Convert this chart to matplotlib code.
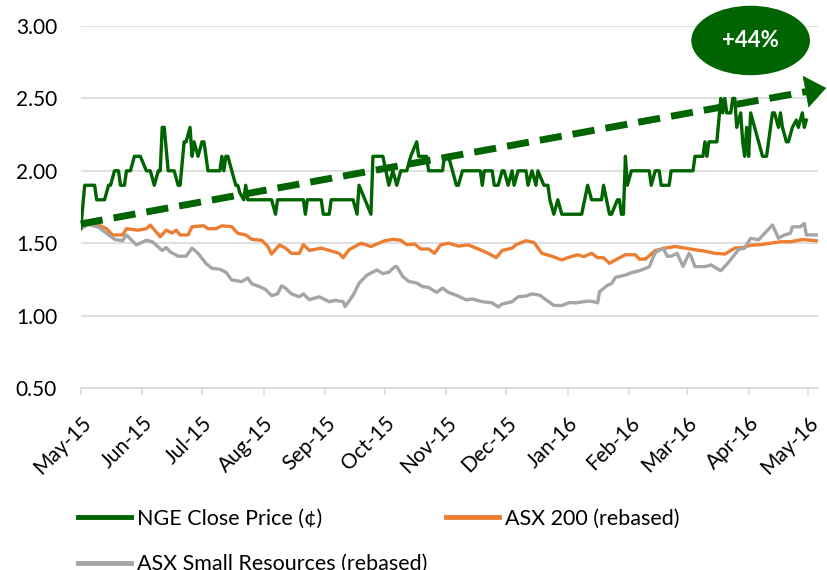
import matplotlib
matplotlib.use('Agg')
import matplotlib.pyplot as plt
import matplotlib.dates as mdates
from matplotlib.patches import Ellipse
import pandas as pd

plt.rcParams['font.family'] = ['Lato', 'DejaVu Sans']

# NGE close price (cents)
nge_dates = ['2015-05-01', '2015-05-03', '2015-05-08', '2015-05-09', '2015-05-13', '2015-05-15',
             '2015-05-16', '2015-05-18', '2015-05-20', '2015-05-21', '2015-05-23', '2015-05-24',
             '2015-05-26', '2015-05-28', '2015-05-31', '2015-06-03', '2015-06-05', '2015-06-07',
             '2015-06-09', '2015-06-10', '2015-06-11', '2015-06-12', '2015-06-14', '2015-06-17',
             '2015-06-19', '2015-06-20', '2015-06-22', '2015-06-23', '2015-06-25', '2015-06-26',
             '2015-06-27', '2015-06-29', '2015-07-01', '2015-07-02', '2015-07-04', '2015-07-10',
             '2015-07-11', '2015-07-12', '2015-07-13', '2015-07-14', '2015-07-16', '2015-07-18',
             '2015-07-19', '2015-07-20', '2015-07-22', '2015-07-23', '2015-07-24', '2015-08-05',
             '2015-08-07', '2015-08-08', '2015-08-19', '2015-08-21', '2015-08-22', '2015-08-23',
             '2015-08-30', '2015-08-31', '2015-09-03', '2015-09-04', '2015-09-15', '2015-09-17',
             '2015-09-18', '2015-09-21', '2015-09-24', '2015-09-25', '2015-09-30', '2015-10-03',
             '2015-10-05', '2015-10-07', '2015-10-09', '2015-10-12', '2015-10-14', '2015-10-17',
             '2015-10-18', '2015-10-22', '2015-10-23', '2015-10-30', '2015-10-31', '2015-11-02',
             '2015-11-04', '2015-11-06', '2015-11-07', '2015-11-09', '2015-11-18', '2015-11-19',
             '2015-11-20', '2015-11-24', '2015-11-25', '2015-11-27', '2015-11-29', '2015-11-30',
             '2015-12-02', '2015-12-04', '2015-12-05', '2015-12-07', '2015-12-11', '2015-12-12',
             '2015-12-14', '2015-12-16', '2015-12-17', '2015-12-20', '2015-12-22', '2015-12-23',
             '2015-12-25', '2015-12-27', '2015-12-29', '2016-01-08', '2016-01-11', '2016-01-13',
             '2016-01-18', '2016-01-19', '2016-01-22', '2016-01-23', '2016-01-26', '2016-01-27',
             '2016-01-28', '2016-01-29', '2016-01-30', '2016-01-31', '2016-02-02', '2016-02-11',
             '2016-02-12', '2016-02-14', '2016-02-16', '2016-02-17', '2016-02-21', '2016-02-22',
             '2016-03-04', '2016-03-05', '2016-03-09', '2016-03-10', '2016-03-11', '2016-03-12',
             '2016-03-16', '2016-03-18', '2016-03-19', '2016-03-20', '2016-03-21', '2016-03-23',
             '2016-03-24', '2016-03-25', '2016-03-26', '2016-03-28', '2016-03-29', '2016-03-30',
             '2016-03-31', '2016-04-01', '2016-04-02', '2016-04-04', '2016-04-06', '2016-04-08',
             '2016-04-10', '2016-04-12', '2016-04-13', '2016-04-14', '2016-04-16', '2016-04-17',
             '2016-04-18', '2016-04-20', '2016-04-21', '2016-04-23', '2016-04-25', '2016-04-26',
             '2016-04-28', '2016-04-29', '2016-04-30']
nge_vals = [1.6, 1.9, 1.9, 1.8, 1.8, 1.9,
            1.9, 2.0, 2.0, 1.9, 1.9, 2.0,
            2.0, 2.1, 2.1, 2.0, 2.0, 1.9,
            2.0, 2.0, 2.3, 2.3, 2.0, 2.0,
            1.9, 1.9, 2.2, 2.2, 2.3, 2.1,
            2.2, 2.1, 2.2, 2.2, 2.0, 2.0,
            2.1, 2.0, 2.1, 2.1, 2.0, 1.9,
            1.9, 1.85, 1.8, 1.9, 1.8, 1.8,
            1.7, 1.8, 1.8, 1.8, 1.7, 1.8,
            1.8, 1.7, 1.7, 1.8, 1.8, 1.7,
            1.9, 1.8, 1.7, 2.1, 2.1, 1.9,
            2.0, 1.9, 2.0, 2.0, 2.1, 2.2,
            2.1, 2.1, 2.0, 2.0, 2.1, 2.1,
            2.0, 1.9, 1.9, 2.0, 2.0, 1.9,
            2.0, 2.0, 1.9, 1.9, 2.0, 2.0,
            1.9, 2.0, 1.9, 2.0, 2.0, 1.9,
            2.0, 1.9, 2.0, 1.9, 1.9, 1.8,
            1.7, 1.8, 1.7, 1.7, 1.9, 1.8,
            1.8, 1.9, 1.7, 1.7, 1.8, 1.8,
            1.7, 1.7, 2.1, 1.9, 2.0, 2.0,
            1.9, 2.0, 2.0, 1.9, 1.9, 2.0,
            2.0, 2.1, 2.1, 2.2, 2.1, 2.2,
            2.2, 2.5, 2.4, 2.5, 2.4, 2.4,
            2.5, 2.5, 2.3, 2.4, 2.2, 2.1,
            2.3, 2.1, 2.4, 2.3, 2.2, 2.1,
            2.1, 2.3, 2.4, 2.4, 2.3, 2.4,
            2.3, 2.2, 2.2, 2.3, 2.35, 2.3,
            2.4, 2.3, 2.35]

# ASX 200 (rebased)
asx200_dates = ['2015-05-01', '2015-05-05', '2015-05-10', '2015-05-14', '2015-05-17', '2015-05-22',
                '2015-05-24', '2015-05-30', '2015-06-03', '2015-06-05', '2015-06-10', '2015-06-13',
                '2015-06-16', '2015-06-18', '2015-06-20', '2015-06-24', '2015-06-26', '2015-07-02',
                '2015-07-04', '2015-07-08', '2015-07-11', '2015-07-16', '2015-07-19', '2015-07-23',
                '2015-07-26', '2015-07-31', '2015-08-03', '2015-08-05', '2015-08-09', '2015-08-12',
                '2015-08-15', '2015-08-19', '2015-08-21', '2015-08-24', '2015-08-30', '2015-09-03',
                '2015-09-08', '2015-09-10', '2015-09-13', '2015-09-19', '2015-09-24', '2015-09-28',
                '2015-10-01', '2015-10-05', '2015-10-09', '2015-10-12', '2015-10-16', '2015-10-19',
                '2015-10-23', '2015-10-26', '2015-10-29', '2015-11-02', '2015-11-07', '2015-11-12',
                '2015-11-17', '2015-11-22', '2015-11-26', '2015-11-29', '2015-12-04', '2015-12-06',
                '2015-12-11', '2015-12-15', '2015-12-19', '2015-12-24', '2015-12-29', '2016-01-01',
                '2016-01-06', '2016-01-09', '2016-01-13', '2016-01-16', '2016-01-19', '2016-01-22',
                '2016-01-25', '2016-01-30', '2016-02-04', '2016-02-06', '2016-02-09', '2016-02-14',
                '2016-02-19', '2016-02-24', '2016-02-29', '2016-03-05', '2016-03-10', '2016-03-15',
                '2016-03-20', '2016-03-25', '2016-03-29', '2016-04-02', '2016-04-07', '2016-04-12',
                '2016-04-17', '2016-04-22', '2016-04-28', '2016-05-03', '2016-05-05']
asx200_vals = [1.61, 1.63, 1.625, 1.60, 1.557, 1.557,
               1.60, 1.59, 1.60, 1.625, 1.545, 1.59,
               1.57, 1.59, 1.557, 1.557, 1.614, 1.62,
               1.60, 1.60, 1.62, 1.614, 1.568, 1.557,
               1.527, 1.52, 1.48, 1.425, 1.488, 1.466,
               1.43, 1.43, 1.49, 1.45, 1.466, 1.45,
               1.43, 1.40, 1.455, 1.50, 1.477, 1.50,
               1.517, 1.527, 1.52, 1.49, 1.494, 1.46,
               1.46, 1.43, 1.488, 1.50, 1.48, 1.488,
               1.46, 1.43, 1.40, 1.45, 1.466, 1.49,
               1.517, 1.505, 1.43, 1.41, 1.384, 1.40,
               1.42, 1.407, 1.43, 1.40, 1.40, 1.361,
               1.385, 1.42, 1.42, 1.39, 1.39, 1.449,
               1.466, 1.477, 1.466, 1.455, 1.445, 1.43,
               1.425, 1.466, 1.47, 1.486, 1.49, 1.50,
               1.51, 1.51, 1.525, 1.52, 1.517]

# ASX Small Resources (rebased)
small_dates = ['2015-05-01', '2015-05-05', '2015-05-10', '2015-05-14', '2015-05-18', '2015-05-22',
               '2015-05-24', '2015-05-29', '2015-06-03', '2015-06-06', '2015-06-11', '2015-06-13',
               '2015-06-15', '2015-06-19', '2015-06-23', '2015-06-26', '2015-06-29', '2015-07-03',
               '2015-07-06', '2015-07-10', '2015-07-13', '2015-07-16', '2015-07-21', '2015-07-24',
               '2015-07-26', '2015-07-30', '2015-08-02', '2015-08-05', '2015-08-08', '2015-08-10',
               '2015-08-12', '2015-08-15', '2015-08-19', '2015-08-21', '2015-08-24', '2015-08-29',
               '2015-09-03', '2015-09-06', '2015-09-10', '2015-09-11', '2015-09-15', '2015-09-18',
               '2015-09-22', '2015-09-27', '2015-09-30', '2015-10-03', '2015-10-06', '2015-10-07',
               '2015-10-10', '2015-10-13', '2015-10-17', '2015-10-20', '2015-10-23', '2015-10-27',
               '2015-10-30', '2015-11-02', '2015-11-06', '2015-11-11', '2015-11-14', '2015-11-19',
               '2015-11-24', '2015-11-27', '2015-11-29', '2015-12-04', '2015-12-07', '2015-12-11',
               '2015-12-14', '2015-12-18', '2015-12-21', '2015-12-25', '2015-12-29', '2016-01-02',
               '2016-01-05', '2016-01-09', '2016-01-12', '2016-01-14', '2016-01-16', '2016-01-17',
               '2016-01-21', '2016-01-23', '2016-01-25', '2016-01-30', '2016-02-02', '2016-02-06',
               '2016-02-08', '2016-02-11', '2016-02-14', '2016-02-18', '2016-02-20', '2016-02-22',
               '2016-02-25', '2016-02-28', '2016-03-02', '2016-03-03', '2016-03-05', '2016-03-10',
               '2016-03-13', '2016-03-18', '2016-03-22', '2016-03-27', '2016-03-30', '2016-04-02',
               '2016-04-06', '2016-04-09', '2016-04-13', '2016-04-16', '2016-04-19', '2016-04-22',
               '2016-04-23', '2016-04-27', '2016-04-29', '2016-04-30', '2016-05-05']
small_vals = [1.60, 1.63, 1.61, 1.568, 1.527, 1.517,
              1.557, 1.488, 1.52, 1.51, 1.45, 1.47,
              1.44, 1.41, 1.41, 1.466, 1.43, 1.36,
              1.327, 1.32, 1.30, 1.246, 1.235, 1.26,
              1.22, 1.20, 1.18, 1.138, 1.15, 1.205,
              1.19, 1.15, 1.13, 1.15, 1.11, 1.13,
              1.096, 1.105, 1.096, 1.062, 1.14, 1.223,
              1.28, 1.315, 1.29, 1.30, 1.338, 1.338,
              1.27, 1.236, 1.225, 1.20, 1.195, 1.16,
              1.19, 1.16, 1.14, 1.108, 1.115, 1.096,
              1.088, 1.06, 1.08, 1.096, 1.13, 1.135,
              1.15, 1.14, 1.11, 1.07, 1.07, 1.09,
              1.088, 1.096, 1.10, 1.096, 1.088, 1.165,
              1.21, 1.22, 1.264, 1.28, 1.296, 1.31,
              1.32, 1.337, 1.435, 1.466, 1.41, 1.41,
              1.43, 1.34, 1.43, 1.41, 1.338, 1.338,
              1.35, 1.31, 1.37, 1.457, 1.466, 1.534,
              1.523, 1.568, 1.626, 1.534, 1.557, 1.568,
              1.613, 1.613, 1.637, 1.557, 1.557]

# trend arrow (start, tip) and label
trend_dates = ['2015-05-01', '2016-05-10']
trend_vals = [1.633, 2.572]
badge_date = '2016-04-02'
badge_val = 2.90
badge_text = '+44%'

green = '#006400'
orange = '#ED7D31'
grey = '#A5A5A5'
gridc = '#D9D9D9'

fig = plt.figure(figsize=(8.28, 5.70), dpi=100)
ax = fig.add_axes([0.0975, 0.3193, 0.8905, 0.6351])

l1, = ax.plot(pd.to_datetime(nge_dates), nge_vals, color=green, lw=2.4, zorder=4,
              label='NGE Close Price (¢)')
l2, = ax.plot(pd.to_datetime(asx200_dates), asx200_vals, color=orange, lw=2.4, zorder=2,
              label='ASX 200 (rebased)')
l3, = ax.plot(pd.to_datetime(small_dates), small_vals, color=grey, lw=2.4, zorder=2.2,
              label='ASX Small Resources (rebased)')

# dashed trend arrow
t0, t1 = mdates.date2num(pd.to_datetime(trend_dates))
v0, v1 = trend_vals
tb = t1 - 9.5
vb = v0 + (v1 - v0) * (tb - t0) / (t1 - t0)
ax.plot([t0, tb], [v0, vb], color=green, lw=5, ls=(0, (3.2, 1.6)),
        solid_capstyle='butt', dash_capstyle='butt', zorder=3, clip_on=False)
ax.annotate('', xy=(t1, v1), xytext=(tb, vb), annotation_clip=False,
            arrowprops=dict(arrowstyle='-|>,head_length=0.4,head_width=0.31',
                            mutation_scale=36, fc=green, ec=green, lw=0.5,
                            shrinkA=0, shrinkB=0), zorder=3)

bx = mdates.date2num(pd.Timestamp(badge_date))
ax.add_patch(Ellipse((bx, badge_val), width=59, height=0.47, color=green,
                     clip_on=False, zorder=5))
ax.text(bx, badge_val, badge_text, color='white', fontsize=16, fontweight='bold',
        ha='center', va='center', zorder=6)

ax.set_ylim(0.5, 3.0)
ax.set_yticks([0.5, 1.0, 1.5, 2.0, 2.5, 3.0])
ax.yaxis.set_major_formatter(matplotlib.ticker.FormatStrFormatter('%.2f'))
ax.set_xlim(pd.Timestamp('2015-05-01'), pd.Timestamp('2016-05-05 22:00'))
ax.xaxis.set_major_locator(mdates.MonthLocator())
ax.xaxis.set_major_formatter(mdates.DateFormatter('%b-%y'))

ax.grid(axis='y', color=gridc, lw=1.2)
ax.set_axisbelow(True)
for s in ['top', 'right', 'left']:
    ax.spines[s].set_visible(False)
ax.spines['bottom'].set_color(gridc)
ax.spines['bottom'].set_linewidth(1.2)
ax.tick_params(axis='y', length=0, pad=17, labelsize=15, labelcolor='black')
ax.tick_params(axis='x', length=5, width=1.2, color=gridc, pad=13, labelsize=15)
plt.setp(ax.get_xticklabels(), rotation=45, ha='right', rotation_mode='anchor')

fig.legend([l1, l3, l2], [l1.get_label(), l3.get_label(), l2.get_label()],
           ncol=2, loc='upper left', bbox_to_anchor=(0.094, 0.108), frameon=False,
           fontsize=15.5, handlelength=2.45, handletextpad=0.28, columnspacing=0.9,
           labelspacing=1.2, borderaxespad=0, borderpad=0)
for h in fig.legends[0].get_lines():
    h.set_linewidth(3.5)

fig.savefig('out.png', dpi=100)
